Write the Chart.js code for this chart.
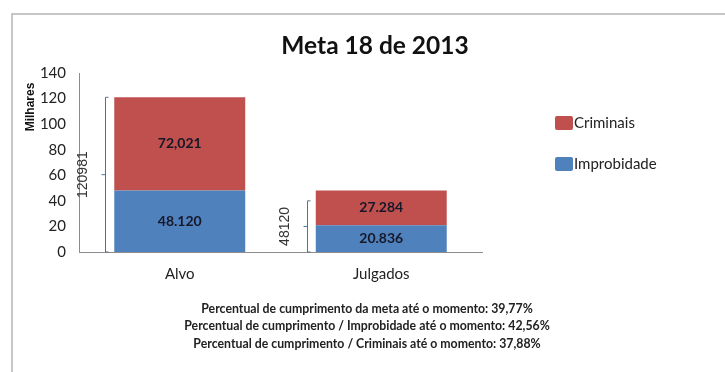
<!DOCTYPE html>
<html lang="pt">
  <head>
    <meta charset="utf-8" />
    <title>Meta 18 de 2013</title>
    <style>
      * {
        margin: 0;
        padding: 0;
      }
      body {
        background: #fff;
      }
    </style>
  </head>
  <body>
    <canvas id="myChart" width="725" height="372"></canvas>

    <script src="https://cdn.jsdelivr.net/npm/chart.js@4.4.1/dist/chart.umd.min.js"></script>

    <script>
      const categories = ["Alvo", "Julgados"];
      const improbidade = [48.12, 20.836];
      const criminais = [72.861, 27.284];
      const improbidadeLabels = ["48.120", "20.836"];
      const criminaisLabels = ["72,021", "27.284"];
      const bracketTop = [120.981, 40];
      const bracketLabels = ["120981", "48120"];
      const yTicks = [0, 20, 40, 60, 80, 100, 120, 140];
      const footLines = [
        "Percentual de cumprimento da meta até o momento: 39,77%",
        "Percentual de cumprimento / Improbidade até o momento: 42,56%",
        "Percentual de cumprimento / Criminais até o momento: 37,88%",
      ];

      const RED = "#C0504D";
      const BLUE = "#4F81BD";
      const FONT = "Lato, 'Open Sans', sans-serif";

      const extras = {
        id: "extras",
        beforeDraw(chart) {
          const { ctx } = chart;
          ctx.save();
          ctx.strokeStyle = "#b4b4b4";
          ctx.lineWidth = 1.5;
          ctx.beginPath();
          ctx.moveTo(12, 380);
          ctx.lineTo(12, 14);
          ctx.lineTo(730, 14);
          ctx.stroke();
          ctx.restore();
        },
        afterDatasetsDraw(chart) {
          const {
            ctx,
            scales: { y },
          } = chart;
          ctx.save();
          // value labels
          ctx.font = "bold 14px " + FONT;
          ctx.fillStyle = "#16182a";
          ctx.textAlign = "center";
          ctx.textBaseline = "middle";
          [improbidadeLabels, criminaisLabels].forEach((labels, di) => {
            chart.getDatasetMeta(di).data.forEach((bar, i) => {
              ctx.fillText(labels[i], bar.x, (bar.y + bar.base) / 2);
            });
          });

          // brackets
          ctx.strokeStyle = "#55728f";
          ctx.lineWidth = 1;
          chart.getDatasetMeta(0).data.forEach((bar, i) => {
            const bx = Math.round(bar.x - bar.width / 2 - 9) + 0.5;
            const y0 = y.getPixelForValue(0);
            const y1 = y.getPixelForValue(bracketTop[i]);
            const ym = (y0 + y1) / 2;
            ctx.beginPath();
            ctx.moveTo(bx + 3, y1);
            ctx.lineTo(bx, y1);
            ctx.lineTo(bx, y0);
            ctx.lineTo(bx + 3, y0);
            ctx.moveTo(bx, ym);
            ctx.lineTo(bx - 4, ym);
            ctx.stroke();

            ctx.save();
            ctx.translate(bx - 22, ym);
            ctx.rotate(-Math.PI / 2);
            ctx.font = "14px 'Liberation Sans', sans-serif";
            ctx.fillStyle = "#333";
            ctx.fillText(bracketLabels[i], 0, 0);
            ctx.restore();
          });
          ctx.restore();
        },
        afterDraw(chart) {
          const { ctx } = chart;
          ctx.save();
          ctx.textBaseline = "middle";

          // title
          ctx.fillStyle = "#111";
          ctx.textAlign = "center";
          ctx.font = "bold 24.5px " + FONT;
          ctx.fillText("Meta 18 de 2013", 375, 46);

          // y axis title
          ctx.save();
          ctx.translate(31, 107);
          ctx.rotate(-Math.PI / 2);
          ctx.font = "bold 12px 'Liberation Sans', sans-serif";
          ctx.fillText("Milhares", 0, 0);
          ctx.restore();

          // legend
          const items = [
            { label: "Criminais", color: RED, y: 123 },
            { label: "Improbidade", color: BLUE, y: 164 },
          ];
          ctx.textAlign = "left";
          ctx.font = "15px " + FONT;
          items.forEach((it) => {
            ctx.fillStyle = it.color;
            ctx.beginPath();
            ctx.roundRect(555, it.y - 7, 18, 14, 2);
            ctx.fill();
            ctx.fillStyle = "#222";
            ctx.fillText(it.label, 574, it.y);
          });

          // footnotes
          ctx.textAlign = "center";
          ctx.font = "bold 12.3px " + FONT;
          footLines.forEach((t, i) => {
            ctx.fillText(t, 367, 309 + i * 17.5);
          });
          ctx.restore();
        },
      };

      const config = {
        type: "bar",
        data: {
          labels: categories,
          datasets: [
            {
              label: "Improbidade",
              data: improbidade,
              backgroundColor: BLUE,
              barPercentage: 1,
              categoryPercentage: 0.65,
            },
            {
              label: "Criminais",
              data: criminais,
              backgroundColor: RED,
              barPercentage: 1,
              categoryPercentage: 0.65,
            },
          ],
        },
        options: {
          responsive: false,
          animation: false,
          layout: {
            padding: { top: 73, right: 243, bottom: 0, left: 0 },
          },
          plugins: {
            legend: { display: false },
            tooltip: { enabled: false },
          },
          scales: {
            x: {
              stacked: true,
              grid: { display: false, drawTicks: false },
              border: { display: true, color: "#8c8c8c", width: 1 },
              ticks: {
                padding: 13,
                color: "#222",
                font: { family: FONT, size: 15 },
              },
              afterFit(scale) {
                scale.height = 120;
              },
            },
            y: {
              stacked: true,
              min: 0,
              max: 140,
              afterBuildTicks(scale) {
                scale.ticks = yTicks.map((v) => ({ value: v }));
              },
              grid: { display: false, drawTicks: false },
              border: { display: true, color: "#8c8c8c", width: 1 },
              ticks: {
                padding: 13,
                color: "#222",
                font: { family: FONT, size: 15 },
              },
              afterFit(scale) {
                scale.width = 79;
              },
            },
          },
        },
        plugins: [extras],
      };

      const myChart = new Chart(document.getElementById("myChart"), config);
    </script>
  </body>
</html>
